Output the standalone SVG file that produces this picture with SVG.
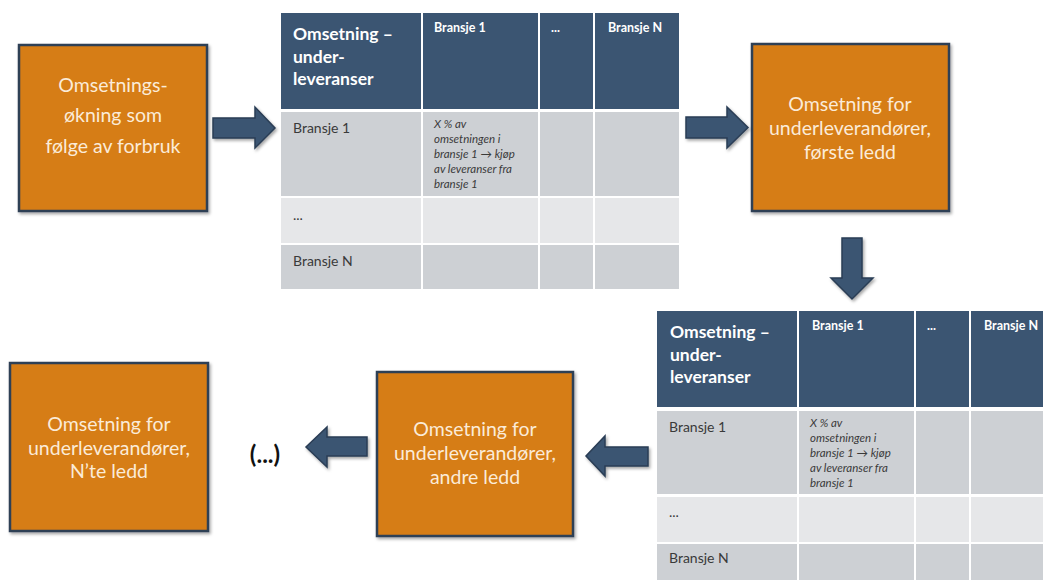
<svg xmlns="http://www.w3.org/2000/svg" width="1043" height="580" viewBox="0 0 1043 580">
<defs>
<filter id="sh" x="-10%" y="-10%" width="130%" height="130%">
<feDropShadow dx="1.5" dy="2" stdDeviation="1.5" flood-color="#000" flood-opacity="0.35"/>
</filter>
</defs>
<style>
.box{fill:#D67D17;stroke:#2E3F55;stroke-width:2.5;filter:url(#sh)}
.bt{font-family:Lato,"Liberation Sans",sans-serif;font-size:19.5px;fill:#FBEBD8;text-anchor:middle}
.hd{fill:#3B5572}
.r1{fill:#CDD0D4}
.r2{fill:#E6E7E9}
.th{font-family:Lato,"Liberation Sans",sans-serif;font-weight:bold;fill:#FFFFFF}
.big{font-size:17.5px}
.sm{font-size:12.5px}
.rt{font-family:Lato,"Liberation Sans",sans-serif;font-size:14px;fill:#3A3A3A}
.it{font-family:Lato,"Liberation Sans",sans-serif;font-size:11.5px;font-style:italic;fill:#3A3A3A}
.arr{fill:#3B5572;stroke:#2A3D55;stroke-width:1.5;filter:url(#sh)}
</style>
<rect width="1043" height="580" fill="#FFFFFF"/>

<g id="box1">
<rect class="box" x="19" y="45" width="188" height="166"/>
<text class="bt" x="113" y="92">Omsetnings-</text>
<text class="bt" x="113" y="122">økning som</text>
<text class="bt" x="113" y="153">følge av forbruk</text>
</g>

<g id="table1">
<rect class="hd" x="281" y="13" width="140" height="96"/>
<rect class="hd" x="423" y="13" width="115" height="96"/>
<rect class="hd" x="540" y="13" width="53" height="96"/>
<rect class="hd" x="595" y="13" width="84" height="96"/>
<rect class="r1" x="281" y="112" width="140" height="84"/>
<rect class="r1" x="423" y="112" width="115" height="84"/>
<rect class="r1" x="540" y="112" width="53" height="84"/>
<rect class="r1" x="595" y="112" width="84" height="84"/>
<rect class="r2" x="281" y="198" width="140" height="45"/>
<rect class="r2" x="423" y="198" width="115" height="45"/>
<rect class="r2" x="540" y="198" width="53" height="45"/>
<rect class="r2" x="595" y="198" width="84" height="45"/>
<rect class="r1" x="281" y="245" width="140" height="44"/>
<rect class="r1" x="423" y="245" width="115" height="44"/>
<rect class="r1" x="540" y="245" width="53" height="44"/>
<rect class="r1" x="595" y="245" width="84" height="44"/>
<text class="th big" x="293" y="40">Omsetning –</text>
<text class="th big" x="293" y="63">under-</text>
<text class="th big" x="293" y="85">leveranser</text>
<text class="th sm" x="434" y="32">Bransje 1</text>
<text class="th sm" x="551" y="32">...</text>
<text class="th sm" x="608" y="32">Bransje N</text>
<text class="rt" x="293" y="133">Bransje 1</text>
<text class="rt" x="293" y="220" font-size="10">...</text>
<text class="rt" x="293" y="266">Bransje N</text>
<text class="it" x="434" y="128">X % av</text>
<text class="it" x="434" y="143">omsetningen i</text>
<text class="it" x="434" y="158">bransje 1 → kjøp</text>
<text class="it" x="434" y="173">av leveranser fra</text>
<text class="it" x="434" y="188">bransje 1</text>
</g>

<g id="box2">
<rect class="box" x="752" y="44" width="197" height="167"/>
<text class="bt" x="850" y="111">Omsetning for</text>
<text class="bt" x="850" y="135">underleverandører,</text>
<text class="bt" x="850" y="159">første ledd</text>
</g>

<g id="table2">
<rect class="hd" x="657" y="311" width="140" height="96"/>
<rect class="hd" x="799" y="311" width="115" height="96"/>
<rect class="hd" x="916" y="311" width="53" height="96"/>
<rect class="hd" x="971" y="311" width="72" height="96"/>
<rect class="r1" x="657" y="411" width="140" height="83"/>
<rect class="r1" x="799" y="411" width="115" height="83"/>
<rect class="r1" x="916" y="411" width="53" height="83"/>
<rect class="r1" x="971" y="411" width="72" height="83"/>
<rect class="r2" x="657" y="497" width="140" height="45"/>
<rect class="r2" x="799" y="497" width="115" height="45"/>
<rect class="r2" x="916" y="497" width="53" height="45"/>
<rect class="r2" x="971" y="497" width="72" height="45"/>
<rect class="r1" x="657" y="544" width="140" height="36"/>
<rect class="r1" x="799" y="544" width="115" height="36"/>
<rect class="r1" x="916" y="544" width="53" height="36"/>
<rect class="r1" x="971" y="544" width="72" height="36"/>
<text class="th big" x="670" y="338">Omsetning –</text>
<text class="th big" x="670" y="361">under-</text>
<text class="th big" x="670" y="383">leveranser</text>
<text class="th sm" x="812" y="330">Bransje 1</text>
<text class="th sm" x="927" y="330">...</text>
<text class="th sm" x="984" y="330">Bransje N</text>
<text class="rt" x="669" y="432">Bransje 1</text>
<text class="rt" x="669" y="517" font-size="10">...</text>
<text class="rt" x="669" y="563">Bransje N</text>
<text class="it" x="810" y="427">X % av</text>
<text class="it" x="810" y="442">omsetningen i</text>
<text class="it" x="810" y="457">bransje 1 → kjøp</text>
<text class="it" x="810" y="472">av leveranser fra</text>
<text class="it" x="810" y="487">bransje 1</text>
</g>

<g id="box3">
<rect class="box" x="377" y="372" width="196" height="164"/>
<text class="bt" x="475" y="436">Omsetning for</text>
<text class="bt" x="475" y="460">underleverandører,</text>
<text class="bt" x="475" y="484">andre ledd</text>
</g>

<g id="ellipsis">
<text x="265" y="463" font-family="Lato,'Liberation Sans',sans-serif" font-weight="bold" font-size="24" fill="#111" text-anchor="middle">(...)</text>
</g>

<g id="box4">
<rect class="box" x="10" y="363" width="198" height="168"/>
<text class="bt" x="109" y="431">Omsetning for</text>
<text class="bt" x="109" y="455">underleverandører,</text>
<text class="bt" x="109" y="478">N’te ledd</text>
</g>

<g id="connectors">
<polygon class="arr" points="213,118 255,118 255,107 275,128 255,148 255,138 213,138"/>
<polygon class="arr" points="686,117 727,117 727,107 748,127.5 727,148 727,138 686,138"/>
<polygon class="arr" points="842,238 862,238 862,278 873,278 852,299 831,278 842,278"/>
<polygon class="arr" points="648,447 605,447 605,436 586,456 605,476 605,466 648,466"/>
<polygon class="arr" points="367,437 327,437 327,427 306,447 327,467 327,456 367,456"/>
</g>
</svg>
